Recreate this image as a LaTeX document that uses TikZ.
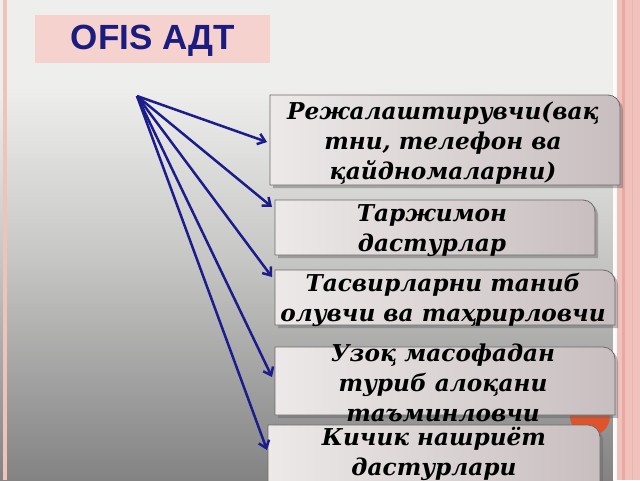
\documentclass[tikz,border=0pt]{standalone}
\usepackage{fontspec}
\setmainfont{DejaVu Serif}
\newfontfamily\titlefont{Liberation Sans}
\usetikzlibrary{arrows.meta,calc}
\definecolor{bgtop}{HTML}{EEEEEC}
\definecolor{bgmid}{HTML}{C6C6C5}
\definecolor{bgbot}{HTML}{838383}
\definecolor{titlepink}{HTML}{F5D2CE}
\definecolor{titleblue}{HTML}{1B1B80}
\definecolor{arrowblue}{HTML}{1C1C8C}
\definecolor{boxl}{HTML}{EDE9E9}
\definecolor{boxr}{HTML}{C8BEC0}
\definecolor{boxedge}{HTML}{6E6A6A}
\definecolor{stripink}{HTML}{F1C2BC}
\definecolor{stripdark}{HTML}{E9A9A2}
\definecolor{dotorange}{HTML}{E0532A}
\pgfdeclareverticalshading{bgshade}{100bp}{color(0bp)=(bgbot); color(25bp)=(bgbot); color(48bp)=(bgmid); color(66bp)=(bgtop); color(100bp)=(bgtop)}
\newcommand\onecornerbox[1]{%
  \fill[black!60,opacity=.45] ($(#1.south west)+(3,3)$) -- ($(#1.north west)+(3,3)$) -- ($(#1.north east)+(-9,3)$) arc[start angle=90,end angle=0,radius=12pt] -- ($(#1.south east)+(3,3)$) -- cycle;
  \draw[boxshape] (#1.south west) -- (#1.north west) -- ($(#1.north east)+(-12,0)$) arc[start angle=90,end angle=0,radius=12pt] -- (#1.south east) -- cycle;}
\tikzset{
  boxanchor/.style={inner sep=0pt, outer sep=0pt},
  boxshape/.style={draw=boxedge, line width=0.8pt, left color=boxl, right color=boxr},
  boxtext/.style={align=center, inner sep=0pt, font=\fontsize{23.2}{29.8}\selectfont\bfseries\itshape},
  conn/.style={draw=arrowblue, line width=2.5pt, -{Straight Barb[length=7pt,width=11pt]}},
  titlestyle/.style={text=titleblue, font=\titlefont\fontsize{35}{40}\selectfont\bfseries, inner sep=0pt}
}
\begin{document}
\begin{tikzpicture}[x=1pt,y=-1pt]
\clip (0,0) rectangle (640,480);
% background
\shade[shading=bgshade] (0,0) rectangle (613,480);
\fill[stripink] (613,0) rectangle (640,480);
\fill[white!92!stripink] (613,0) rectangle (617,480);
\fill[stripdark] (622,0) rectangle (625,480);
\fill[stripdark!60!stripink] (632,0) rectangle (633,480);
\fill[stripink] (3,0) rectangle (7,480);
% title
\fill[titlepink] (35,15) rectangle (270,63);
\node[titlestyle] (title) at (153,41) {OFIS АДТ};
% orange dot behind boxes
\fill[dotorange] (590,416) circle[radius=20pt];
% box frames
\node[boxanchor, minimum width=350pt, minimum height=90pt] (b1) at (445,140) {};
\node[boxanchor, minimum width=320pt, minimum height=55pt] (b2) at (435,227.5) {};
\node[boxanchor, minimum width=340pt, minimum height=55pt] (b3) at (445,297.5) {};
\node[boxanchor, minimum width=340pt, minimum height=68pt] (b4) at (445,381) {};
\node[boxanchor, minimum width=332pt, minimum height=75pt] (b5) at (434,462.5) {};
\onecornerbox{b1}
\onecornerbox{b2}
\onecornerbox{b3}
\onecornerbox{b4}
\onecornerbox{b5}
% texts
\node[boxtext] (t1) at (443,143) {Режалаштирувчи(вақ\\тни, телефон ва\\қайдномаларни)};
\node[boxtext] (t2) at (432,231) {Таржимон\\дастурлар};
\node[boxtext] (t3) at (443,300) {Тасвирларни таниб\\олувчи ва таҳрирловчи};
\node[boxtext] (t4) at (443,383) {Узоқ масофадан\\туриб алоқани\\таъминловчи};
\node[boxtext] (t5) at (434,454) {Кичик нашриёт\\дастурлари};
% connectors
\coordinate (src) at (137,96);
\draw[conn] (src) -- ($(b1.west)+(-3,2)$);
\draw[conn] (src) -- ($(b2.north west)+(-3,7)$);
\draw[conn] (src) -- ($(b3.north west)+(-3,7)$);
\draw[conn] (src) -- ($(b4.west)+(-3,-4)$);
\draw[conn] (src) -- ($(b5.west)+(-1,-12.5)$);
\end{tikzpicture}
\end{document}
